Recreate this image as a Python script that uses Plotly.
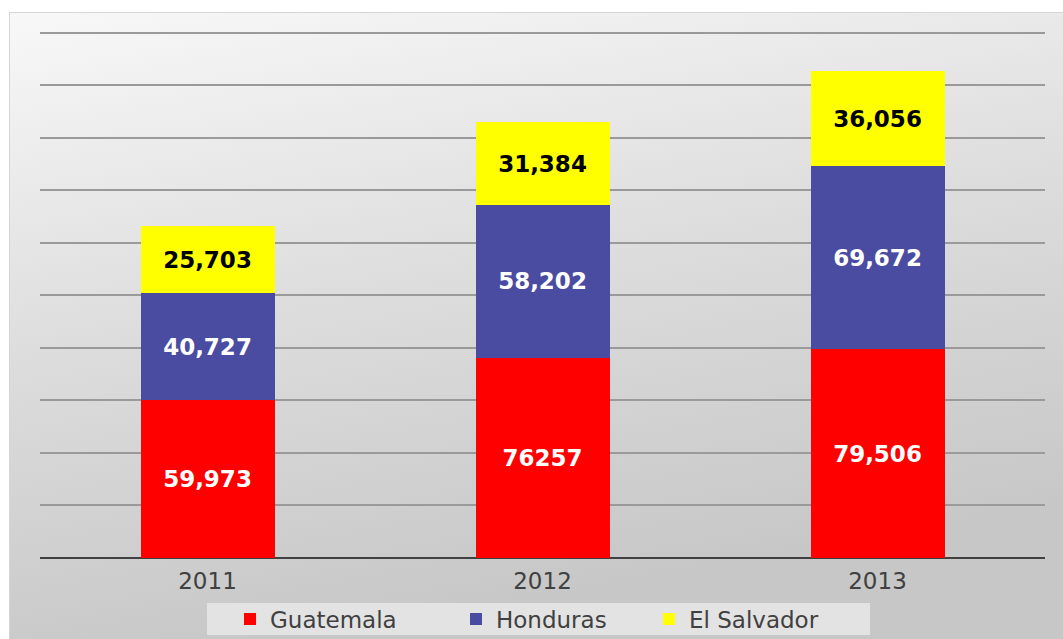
import base64
import plotly.graph_objects as go

years = ["2011", "2012", "2013"]
guatemala = [59973, 76257, 79506]
honduras = [40727, 58202, 69672]
el_salvador = [25703, 31384, 36056]
guatemala_labels = ["59,973", "76257", "79,506"]
honduras_labels = ["40,727", "58,202", "69,672"]
el_salvador_labels = ["25,703", "31,384", "36,056"]

W, H = 1063, 639
L, R, T, B = 40, 18, 30, 81

svg = (
    '<svg xmlns="http://www.w3.org/2000/svg" width="1054" height="627" preserveAspectRatio="none">'
    '<defs><linearGradient id="g" x1="0" y1="0" x2="0.3" y2="1">'
    '<stop offset="0" stop-color="#f8f8f8"/>'
    '<stop offset="0.5" stop-color="#dddddd"/>'
    '<stop offset="1" stop-color="#c7c7c7"/>'
    '</linearGradient></defs>'
    '<rect x="0" y="0" width="1054" height="627" fill="url(#g)"/>'
    '<rect x="0.5" y="0.5" width="1060" height="630" fill="none" stroke="#d6d6d6" stroke-width="1"/>'
    '</svg>'
)
src = "data:image/svg+xml;base64," + base64.b64encode(svg.encode()).decode()

pw = W - L - R
ph = H - T - B
def px(x):
    return (x - L) / pw
def py(y):
    return (H - B - y) / ph

fig = go.Figure()
for name, vals, labels, color, tcolor, lw in [
    ("Guatemala", guatemala, guatemala_labels, "#ff0000", "white", 181),
    ("Honduras", honduras, honduras_labels, "#4a4ca2", "white", 148),
    ("El Salvador", el_salvador, el_salvador_labels, "#ffff00", "black", 160),
]:
    fig.add_trace(go.Bar(
        x=years, y=vals, name=name, marker=dict(color=color, line=dict(width=0)),
        text=labels, textposition="inside", insidetextanchor="middle",
        textangle=0, constraintext="none",
        textfont=dict(family="DejaVu Sans", size=23, color=tcolor, weight="bold"),
        hoverinfo="skip", legendwidth=lw,
    ))

fig.update_layout(
    width=W, height=H,
    margin=dict(l=L, r=R, t=T, b=B, autoexpand=False),
    barmode="stack",
    bargap=0.6,
    paper_bgcolor="white",
    plot_bgcolor="rgba(0,0,0,0)",
    showlegend=True,
    legend=dict(
        orientation="h", x=px(230), xanchor="left", y=py(619), yanchor="middle",
        bgcolor="rgba(0,0,0,0)", font=dict(family="DejaVu Sans", size=23, color="#404040"),
        traceorder="normal", tracegroupgap=0,
    ),
    shapes=[dict(
        type="rect", xref="paper", yref="paper",
        x0=px(207), x1=px(870), y0=py(635), y1=py(603),
        fillcolor="#e3e3e3", line=dict(width=0), layer="above",
    )],
    images=[dict(
        source=src, xref="paper", yref="paper",
        x=px(9), y=py(12), sizex=px(W) - px(9), sizey=py(12) - py(H),
        xanchor="left", yanchor="top", sizing="stretch", layer="below",
    )],
    xaxis=dict(
        showgrid=False, ticks="", showline=False,
        tickfont=dict(family="DejaVu Sans", size=23, color="#404040"),
        ticklabelstandoff=7,
    ),
    yaxis=dict(
        range=[0, 201000], dtick=20000, showticklabels=False, ticks="",
        showgrid=True, gridcolor="#9a9a9a", gridwidth=1.5,
        zeroline=True, zerolinecolor="#404040", zerolinewidth=2,
    ),
)

fig.write_html("out.html")
